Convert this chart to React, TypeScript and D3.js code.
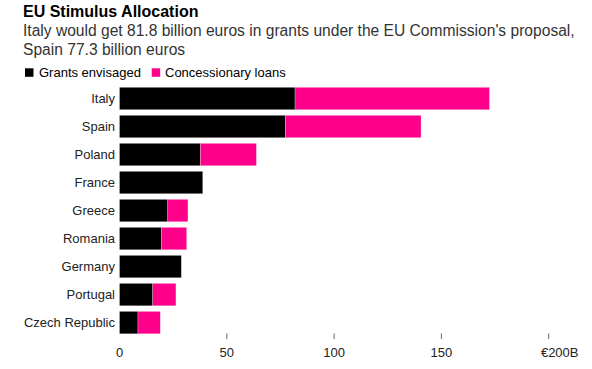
import * as d3 from "d3";
import React from "react";

const countries = ["Italy", "Spain", "Poland", "France", "Greece", "Romania", "Germany", "Portugal", "Czech Republic"];
const grants = [81.8, 77.3, 37.7, 38.8, 22.5, 19.6, 28.8, 15.5, 8.6];
const loans = [90.6, 63.2, 26.1, 0, 9.4, 11.7, 0, 10.8, 10.4];
const ticks = [0, 50, 100, 150, 200];

const W = 592;
const H = 369;
const font = "'Liberation Sans', Arial, sans-serif";

const App = () => {
  const x = d3.scaleLinear().domain([0, 200]).range([119.5, 548.7]);
  const y = d3.scaleBand().domain(countries).range([84.5, 336.6]).paddingInner(0.2).paddingOuter(0.1);

  const stack = d3.stack<number>().keys(["g", "l"]).value((i, k) => (k === "g" ? grants[i] : loans[i]));
  const series = stack(countries.map((_, i) => i));
  const colors = ["#000000", "#ff008a"];

  return (
    <svg width={W} height={H} style={{ position: "absolute", left: 0, top: 0, fontFamily: font }}>
      <rect width={W} height={H} fill="#fff" />
      <text x={23} y={17} fontSize={16} fontWeight="bold" fill="#000">EU Stimulus Allocation</text>
      <text x={23} y={36} fontSize={15.6} fill="#333">Italy would get 81.8 billion euros in grants under the EU Commission's proposal,</text>
      <text x={23} y={54.5} fontSize={15.6} fill="#333">Spain 77.3 billion euros</text>

      <rect x={25} y={68.3} width={8.5} height={8.5} fill={colors[0]} />
      <text x={39} y={76.7} fontSize={13} fill="#000">Grants envisaged</text>
      <rect x={151.7} y={68.3} width={8.5} height={8.5} fill={colors[1]} />
      <text x={165} y={76.7} fontSize={13} fill="#000">Concessionary loans</text>

      {series.map((s, si) => (
        <g key={si} fill={colors[si]}>
          {s.map((d, i) =>
            d[1] > d[0] ? (
              <rect
                key={i}
                x={x(d[0])}
                y={y(countries[i])}
                width={x(d[1]) - x(d[0])}
                height={y.bandwidth()}
                stroke="#fff"
                strokeOpacity={0.5}
                strokeWidth={0.5}
              />
            ) : null
          )}
        </g>
      ))}

      {countries.map((c) => (
        <text key={c} x={115} y={(y(c) ?? 0) + y.bandwidth() / 2} dy="0.35em" textAnchor="end" fontSize={13} fill="#222">
          {c}
        </text>
      ))}

      {ticks.map((t) => (
        <g key={t} transform={`translate(${x(t)},0)`}>
          {t > 0 && <line y1={333.5} y2={339} stroke="#666" strokeWidth={1} />}
          <text x={t === 200 ? 11 : 0} y={357} textAnchor="middle" fontSize={13} fill="#222">
            {t === 200 ? "€200B" : t}
          </text>
        </g>
      ))}
    </svg>
  );
};

export default App;
